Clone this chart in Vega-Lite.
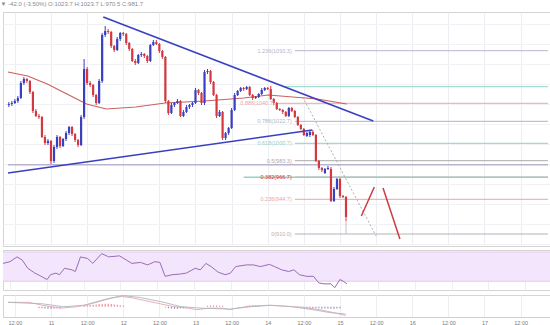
{
"$schema": "https://vega.github.io/schema/vega-lite/v6.json",
"padding": 0,
"background": "#ffffff",
"spacing": 2,
"title": {"text": "▼ -42.0 (-3.50%) O:1023.7 H:1023.7 L:970.5 C:981.7", "anchor": "start", "fontSize": 6, "fontWeight": "normal", "color": "#8a8a8a", "offset": 5, "font": "Liberation Sans"},
"config": {"view": {"stroke": "#d4d4d4"}, "font": "Liberation Sans"},
"datasets": {
"candles": [
{"t":10,"o":1039,"c":1040,"h":1042,"l":1037},{"t":11,"o":1040,"c":1041,"h":1043,"l":1038},{"t":12,"o":1041,"c":1043,"h":1045,"l":1040},{"t":13,"o":1043,"c":1046,"h":1048,"l":1041},{"t":14,"o":1046,"c":1061,"h":1063,"l":1045},{"t":15,"o":1061,"c":1065,"h":1067,"l":1059},{"t":16,"o":1065,"c":1063,"h":1066,"l":1061},{"t":17,"o":1063,"c":1052,"h":1064,"l":1050},{"t":18,"o":1052,"c":1033,"h":1053,"l":1031},{"t":19,"o":1033,"c":1028,"h":1035,"l":1027},
{"t":20,"o":1028,"c":1027,"h":1030,"l":1025},{"t":21,"o":1027,"c":1007,"h":1028,"l":1006},{"t":22,"o":1007,"c":1001,"h":1009,"l":999},{"t":23,"o":1001,"c":1003,"h":1005,"l":999},{"t":24,"o":1003,"c":983,"h":1004,"l":980},{"t":25,"o":983,"c":997,"h":999,"l":981},{"t":26,"o":997,"c":1007,"h":1009,"l":995},{"t":27,"o":1007,"c":998,"h":1008,"l":996},{"t":28,"o":998,"c":1005,"h":1006,"l":997},{"t":29,"o":1005,"c":1011,"h":1013,"l":1003},
{"t":30,"o":1011,"c":1017,"h":1018,"l":1009},{"t":31,"o":1017,"c":1010,"h":1018,"l":1008},{"t":32,"o":1010,"c":1004,"h":1011,"l":1002},{"t":33,"o":1004,"c":999,"h":1005,"l":997},{"t":34,"o":999,"c":1027,"h":1029,"l":998},{"t":35,"o":1027,"c":1075,"h":1085,"l":1025},{"t":36,"o":1075,"c":1061,"h":1077,"l":1059},{"t":37,"o":1061,"c":1059,"h":1063,"l":1057},{"t":38,"o":1059,"c":1049,"h":1060,"l":1047},{"t":39,"o":1049,"c":1041,"h":1050,"l":1039},
{"t":40,"o":1041,"c":1063,"h":1065,"l":1040},{"t":41,"o":1063,"c":1109,"h":1111,"l":1061},{"t":42,"o":1109,"c":1113,"h":1118,"l":1107},{"t":43,"o":1113,"c":1112,"h":1115,"l":1110},{"t":44,"o":1112,"c":1098,"h":1113,"l":1096},{"t":45,"o":1098,"c":1094,"h":1099,"l":1092},{"t":46,"o":1094,"c":1105,"h":1107,"l":1093},{"t":47,"o":1105,"c":1111,"h":1112,"l":1103},{"t":48,"o":1111,"c":1110,"h":1112,"l":1108},{"t":49,"o":1110,"c":1101,"h":1111,"l":1099},
{"t":50,"o":1101,"c":1095,"h":1102,"l":1093},{"t":51,"o":1095,"c":1083,"h":1096,"l":1082},{"t":52,"o":1083,"c":1081,"h":1085,"l":1079},{"t":53,"o":1081,"c":1089,"h":1090,"l":1080},{"t":54,"o":1089,"c":1090,"h":1092,"l":1087},{"t":55,"o":1090,"c":1088,"h":1091,"l":1086},{"t":56,"o":1088,"c":1083,"h":1089,"l":1081},{"t":57,"o":1083,"c":1099,"h":1100,"l":1082},{"t":58,"o":1099,"c":1102,"h":1104,"l":1098},{"t":59,"o":1102,"c":1100,"h":1104,"l":1099},
{"t":60,"o":1100,"c":1093,"h":1101,"l":1091},{"t":61,"o":1093,"c":1087,"h":1094,"l":1085},{"t":62,"o":1087,"c":1043,"h":1088,"l":1041},{"t":63,"o":1043,"c":1031,"h":1044,"l":1029},{"t":64,"o":1031,"c":1039,"h":1041,"l":1030},{"t":65,"o":1039,"c":1041,"h":1042,"l":1037},{"t":66,"o":1041,"c":1043,"h":1045,"l":1040},{"t":67,"o":1043,"c":1028,"h":1044,"l":1027},{"t":68,"o":1028,"c":1032,"h":1034,"l":1027},{"t":69,"o":1032,"c":1037,"h":1039,"l":1031},
{"t":70,"o":1037,"c":1039,"h":1040,"l":1035},{"t":71,"o":1039,"c":1041,"h":1042,"l":1037},{"t":72,"o":1041,"c":1054,"h":1056,"l":1040},{"t":73,"o":1054,"c":1051,"h":1055,"l":1049},{"t":74,"o":1051,"c":1041,"h":1052,"l":1039},{"t":75,"o":1041,"c":1072,"h":1074,"l":1039},{"t":76,"o":1072,"c":1073,"h":1075,"l":1070},{"t":77,"o":1073,"c":1062,"h":1074,"l":1060},{"t":78,"o":1062,"c":1049,"h":1063,"l":1048},{"t":79,"o":1049,"c":1028,"h":1050,"l":1026},
{"t":80,"o":1028,"c":1032,"h":1034,"l":1027},{"t":81,"o":1032,"c":1006,"h":1033,"l":1004},{"t":82,"o":1006,"c":1011,"h":1012,"l":1004},{"t":83,"o":1011,"c":1016,"h":1017,"l":1009},{"t":84,"o":1016,"c":1034,"h":1036,"l":1015},{"t":85,"o":1034,"c":1049,"h":1051,"l":1033},{"t":86,"o":1049,"c":1053,"h":1054,"l":1048},{"t":87,"o":1053,"c":1056,"h":1057,"l":1052},{"t":88,"o":1056,"c":1055,"h":1057,"l":1053},{"t":89,"o":1055,"c":1057,"h":1058,"l":1054},
{"t":90,"o":1057,"c":1049,"h":1058,"l":1048},{"t":91,"o":1049,"c":1046,"h":1050,"l":1044},{"t":92,"o":1046,"c":1047,"h":1048,"l":1045},{"t":93,"o":1047,"c":1050,"h":1051,"l":1046},{"t":94,"o":1050,"c":1054,"h":1056,"l":1049},{"t":95,"o":1054,"c":1056,"h":1057,"l":1053},{"t":96,"o":1056,"c":1055,"h":1057,"l":1054},{"t":97,"o":1055,"c":1045,"h":1058,"l":1044},{"t":98,"o":1045,"c":1041,"h":1046,"l":1039},{"t":99,"o":1041,"c":1035,"h":1042,"l":1034},
{"t":100,"o":1035,"c":1034,"h":1036,"l":1033},{"t":101,"o":1034,"c":1032,"h":1035,"l":1030},{"t":102,"o":1032,"c":1028,"h":1033,"l":1027},{"t":103,"o":1028,"c":1036,"h":1037,"l":1027},{"t":104,"o":1036,"c":1033,"h":1037,"l":1032},{"t":105,"o":1033,"c":1027,"h":1034,"l":1026},{"t":106,"o":1027,"c":1019,"h":1028,"l":1018},{"t":107,"o":1019,"c":1015,"h":1020,"l":1014},{"t":108,"o":1015,"c":1009,"h":1016,"l":1008},{"t":109,"o":1008,"c":1011,"h":1012,"l":1007},
{"t":110,"o":1009,"c":1012,"h":1013,"l":1007},{"t":111,"o":1012,"c":1009,"h":1014,"l":1008},{"t":112,"o":1009,"c":983,"h":1010,"l":982},{"t":113,"o":983,"c":976,"h":984,"l":974},{"t":114,"o":976,"c":974,"h":977,"l":972},{"t":115,"o":971,"c":975,"h":976,"l":970},{"t":116,"o":975,"c":976,"h":978,"l":974},{"t":117,"o":975,"c":943,"h":977,"l":942},{"t":118,"o":943,"c":955,"h":957,"l":942},{"t":119,"o":955,"c":965,"h":966,"l":954},
{"t":120,"o":965,"c":948,"h":966,"l":946},{"t":121,"o":948,"c":947,"h":949,"l":946},{"t":122,"o":947,"c":927,"h":948,"l":923}
],
"ma": [
{"t":9.72,"p":1072},{"t":16.24,"p":1068},{"t":22.77,"p":1060},{"t":29.29,"p":1050},{"t":35.81,"p":1040},{"t":42.34,"p":1035},{"t":52.12,"p":1037},{"t":61.9,"p":1041},{"t":74.95,"p":1043},{"t":88.0,"p":1046},{"t":96.15,"p":1049},{"t":104.3,"p":1047},{"t":112.5,"p":1045},{"t":122.2,"p":1040}
],
"fib": [
{"lvl":"1.236","p":1093.3,"t0":105,"t1":189.1,"lt":104.3,"lbl":"1.236(1093.3)"},
{"lvl":"1","p":1057.3,"t0":101,"t1":189.1,"lt":100.5,"lbl":""},
{"lvl":"0.886","p":1040.7,"t0":99.3,"t1":189.1,"lt":98.6,"lbl":"0.886(1040.7)"},
{"lvl":"0.786","p":1022.7,"t0":105,"t1":189.1,"lt":104.3,"lbl":"0.786(1022.7)"},
{"lvl":"0.618","p":1000.7,"t0":105,"t1":189.1,"lt":104.3,"lbl":"0.618(1000.7)"},
{"lvl":"0.5","p":983.3,"t0":105,"t1":189.1,"lt":104.3,"lbl":"0.5(983.3)"},
{"lvl":"0.382","p":966.7,"t0":105,"t1":189.1,"lt":104.3,"lbl":"0.382(966.7)"},
{"lvl":"0.236","p":944.7,"t0":105,"t1":189.1,"lt":104.3,"lbl":"0.236(944.7)"},
{"lvl":"0","p":910.0,"t0":105,"t1":189.1,"lt":104.3,"lbl":"0(910.0)"}
],
"support": [
{"id":"s1","p":979.3,"t0":9.72,"t1":189.1},
{"id":"s2","p":966.7,"t0":88,"t1":189.1}
],
"trend": [
{"id":"down","t":41.36,"p":1127},{"id":"down","t":131.05,"p":1023},
{"id":"up","t":9.72,"p":971},{"id":"up","t":110.8,"p":1014}
],
"dotted": [{"t":107.6,"p":1047},{"t":132.0,"p":908}],
"proj": [
{"id":"a","t":127.1,"p":928},{"id":"a","t":131.4,"p":957},
{"id":"b","t":134.3,"p":956},{"id":"b","t":139.9,"p":905}
],
"anchor": [{"t":122,"p1":923,"p2":910}],
"rsi": [
{"t":9.7,"r":54.4},{"t":12.0,"r":56.7},{"t":14.3,"r":63.3},{"t":16.0,"r":58.9},{"t":17.8,"r":47.7},{"t":20.1,"r":41.1},{"t":21.2,"r":38.9},{"t":24.1,"r":32.3},{"t":25.2,"r":38.9},{"t":27.0,"r":41.1},{"t":28.1,"r":38.9},{"t":29.8,"r":47.7},{"t":32.2,"r":45.6},{"t":33.3,"r":43.3},{"t":35.0,"r":63.3},{"t":37.3,"r":61.1},{"t":39.0,"r":54.4},{"t":41.9,"r":67.7},{"t":44.2,"r":63.3},{"t":47.7,"r":64.7},{"t":50.0,"r":58.9},{"t":51.7,"r":54.4},{"t":54.6,"r":55.7},{"t":56.9,"r":52.3},{"t":59.2,"r":56.7},{"t":60.9,"r":55.7},{"t":62.6,"r":36.7},{"t":64.9,"r":38.9},{"t":67.3,"r":39.7},{"t":69.5,"r":41.1},{"t":72.4,"r":47.7},{"t":74.1,"r":45.6},{"t":75.9,"r":54.4},{"t":77.6,"r":50},{"t":79.9,"r":42.4},{"t":82.2,"r":38.9},{"t":83.9,"r":41.1},{"t":85.6,"r":50},{"t":89.1,"r":52.3},{"t":91.4,"r":52.3},{"t":93.7,"r":50},{"t":96.6,"r":53.1},{"t":98.3,"r":50},{"t":100.6,"r":45.6},{"t":102.9,"r":43.3},{"t":104.6,"r":45.6},{"t":106.4,"r":38.9},{"t":108.7,"r":36.7},{"t":111.0,"r":36.7},{"t":112.7,"r":27.7},{"t":114.4,"r":26.4},{"t":116.7,"r":26.4},{"t":117.9,"r":21.1},{"t":119.6,"r":32.3},{"t":120.7,"r":30},{"t":121.9,"r":26.4}
],
"macd": [
{"s":"macd","t":9.7,"v":15},{"s":"macd","t":16.6,"v":15},{"s":"macd","t":21.2,"v":5},{"s":"macd","t":27.0,"v":-5},{"s":"macd","t":32.7,"v":0},{"s":"macd","t":37.3,"v":10},{"s":"macd","t":40.8,"v":20},{"s":"macd","t":44.2,"v":30},{"s":"macd","t":47.7,"v":35},{"s":"macd","t":51.1,"v":30},{"s":"macd","t":55.7,"v":20},{"s":"macd","t":60.3,"v":10},{"s":"macd","t":64.9,"v":0},{"s":"macd","t":69.5,"v":-5},{"s":"macd","t":72.4,"v":-10},{"s":"macd","t":76.4,"v":-5},{"s":"macd","t":81.1,"v":-5},{"s":"macd","t":83.4,"v":-10},{"s":"macd","t":85.6,"v":-5},{"s":"macd","t":90.3,"v":2},{"s":"macd","t":96.0,"v":5},{"s":"macd","t":101.8,"v":2},{"s":"macd","t":107.5,"v":-2},{"s":"macd","t":113.3,"v":-10},{"s":"macd","t":117.9,"v":-20},{"s":"macd","t":121.9,"v":-30},
{"s":"signal","t":9.7,"v":15},{"s":"signal","t":21.2,"v":10},{"s":"signal","t":28.1,"v":0},{"s":"signal","t":35.0,"v":5},{"s":"signal","t":41.9,"v":25},{"s":"signal","t":47.7,"v":38},{"s":"signal","t":53.4,"v":32},{"s":"signal","t":61.5,"v":15},{"s":"signal","t":67.2,"v":0},{"s":"signal","t":74.1,"v":-5},{"s":"signal","t":83.4,"v":-8},{"s":"signal","t":90.3,"v":0},{"s":"signal","t":97.2,"v":5},{"s":"signal","t":104.1,"v":0},{"s":"signal","t":111.0,"v":-10},{"s":"signal","t":116.7,"v":-20},{"s":"signal","t":121.9,"v":-25}
],
"hist": [
{"t":20,"h":-4},{"t":21,"h":-5},{"t":22,"h":-6},{"t":23,"h":-7},{"t":24,"h":-7},{"t":25,"h":-6},{"t":26,"h":-5},{"t":27,"h":-4},
{"t":35,"h":4},{"t":36,"h":5},{"t":37,"h":6},{"t":38,"h":7},{"t":39,"h":8},{"t":40,"h":9},{"t":41,"h":9},{"t":42,"h":10},{"t":43,"h":10},{"t":44,"h":9},{"t":45,"h":8},{"t":46,"h":7},{"t":47,"h":5},{"t":48,"h":3},
{"t":62,"h":-3},{"t":63,"h":-5},{"t":64,"h":-6},{"t":65,"h":-7},{"t":66,"h":-7},{"t":67,"h":-6},{"t":68,"h":-5},{"t":69,"h":-3},
{"t":76,"h":3},{"t":77,"h":4},{"t":78,"h":4},{"t":79,"h":4},{"t":80,"h":3},{"t":81,"h":3},
{"t":89,"h":3},{"t":90,"h":4},{"t":91,"h":4},{"t":92,"h":4},{"t":93,"h":3},
{"t":106,"h":-2},{"t":107,"h":-3},{"t":108,"h":-3},{"t":109,"h":-4},{"t":110,"h":-4},{"t":111,"h":-5},{"t":112,"h":-5},{"t":113,"h":-5},{"t":114,"h":-6},{"t":115,"h":-6},{"t":116,"h":-6},{"t":117,"h":-7},{"t":118,"h":-7},{"t":119,"h":-6},{"t":120,"h":-5}
]
},
"vconcat": [
{
"width": 550, "height": 234,
"encoding": {
"x": {"type": "quantitative", "scale": {"domain": [9.72, 189.1], "nice": false, "zero": false}, "axis": {"title": null, "labels": false, "ticks": false, "domain": false, "grid": true, "gridColor": "#eceef3", "values": [12,24,36,48,60,72,84,96,108,120,132,144,156,168,180]}},
"y": {"type": "quantitative", "scale": {"domain": [898, 1132], "nice": false, "zero": false}, "axis": {"title": null, "orient": "right", "labels": false, "ticks": false, "domain": false, "grid": true, "gridColor": "#f1f2f5", "values": [900,920,940,960,980,1000,1020,1040,1060,1080,1100,1120]}}
},
"layer": [
{"data": {"name": "fib"}, "mark": {"type": "rule", "strokeWidth": 1}, "encoding": {"x": {"field": "t0"}, "x2": {"field": "t1"}, "y": {"field": "p"}, "color": {"field": "lvl", "type": "nominal", "legend": null, "scale": {"domain": ["1.236","1","0.886","0.786","0.618","0.5","0.382","0.236","0"], "range": ["#bab3d0","#8fd4c4","#eba5ab","#aeb6c3","#8bd1c2","#ababab","#e0303a","#eaa3aa","#b3b3b3"]}}}},
{"data": {"name": "support"}, "mark": {"type": "rule", "strokeWidth": 1.6}, "encoding": {"x": {"field": "t0"}, "x2": {"field": "t1"}, "y": {"field": "p"}, "color": {"field": "id", "type": "nominal", "legend": null, "scale": {"domain": ["s1","s2"], "range": ["#c4303a","#e2202e"]}}}},
{"data": {"name": "ma"}, "mark": {"type": "line", "color": "#c9605c", "strokeWidth": 1.1, "clip": true}, "encoding": {"x": {"field": "t"}, "y": {"field": "p"}}},
{"data": {"name": "candles"}, "mark": {"type": "rule", "strokeWidth": 1}, "encoding": {"x": {"field": "t"}, "y": {"field": "l"}, "y2": {"field": "h"}, "color": {"condition": {"test": "datum.c > datum.o", "value": "#3a3fc2"}, "value": "#d2383e"}}},
{"data": {"name": "candles"}, "mark": {"type": "bar", "width": 2.2}, "encoding": {"x": {"field": "t"}, "y": {"field": "o"}, "y2": {"field": "c"}, "color": {"condition": {"test": "datum.c > datum.o", "value": "#3a3fc2"}, "value": "#d2383e"}}},
{"data": {"name": "trend"}, "mark": {"type": "line", "color": "#3a3fc2", "strokeWidth": 1.6, "clip": true}, "encoding": {"x": {"field": "t"}, "y": {"field": "p"}, "detail": {"field": "id"}}},
{"data": {"name": "dotted"}, "mark": {"type": "line", "color": "#9a9a9a", "strokeWidth": 0.8, "strokeDash": [2, 2]}, "encoding": {"x": {"field": "t"}, "y": {"field": "p"}}},
{"data": {"name": "proj"}, "mark": {"type": "line", "color": "#d03a40", "strokeWidth": 1.5}, "encoding": {"x": {"field": "t"}, "y": {"field": "p"}, "detail": {"field": "id"}}},
{"data": {"name": "anchor"}, "mark": {"type": "rule", "color": "#b0b0b0", "strokeWidth": 0.8}, "encoding": {"x": {"field": "t"}, "y": {"field": "p1"}, "y2": {"field": "p2"}}},
{"data": {"name": "fib"}, "mark": {"type": "text", "align": "right", "baseline": "middle", "fontSize": 5.5, "dx": -1}, "encoding": {"x": {"field": "lt"}, "y": {"field": "p"}, "text": {"field": "lbl"}, "color": {"field": "lvl", "type": "nominal", "legend": null}}}
]
},
{
"width": 550, "height": 40,
"encoding": {
"x": {"type": "quantitative", "scale": {"domain": [9.72, 189.1], "nice": false, "zero": false}, "axis": {"title": null, "labels": false, "ticks": false, "domain": false, "grid": true, "gridColor": "#eceef3", "values": [12,24,36,48,60,72,84,96,108,120,132,144,156,168,180]}}
},
"layer": [
{"data": {"values": [{"lo": 30, "hi": 70}]}, "mark": {"type": "rect", "color": "#f3e5fb"}, "encoding": {"y": {"field": "hi", "type": "quantitative", "scale": {"domain": [18, 72.7], "nice": false, "zero": false}, "axis": null}, "y2": {"field": "lo"}}},
{"data": {"values": [{"lvl": 70}, {"lvl": 30}]}, "mark": {"type": "rule", "color": "#dcc2ea", "strokeWidth": 0.8}, "encoding": {"y": {"field": "lvl", "type": "quantitative"}}},
{"data": {"name": "rsi"}, "mark": {"type": "line", "color": "#9a6db6", "strokeWidth": 1}, "encoding": {"x": {"field": "t"}, "y": {"field": "r", "type": "quantitative"}}}
]
},
{
"width": 550, "height": 22,
"encoding": {
"x": {"type": "quantitative", "scale": {"domain": [9.72, 189.1], "nice": false, "zero": false}, "axis": {"title": null, "grid": true, "gridColor": "#eceef3", "ticks": false, "domain": true, "domainColor": "#cfcfcf", "labelFontSize": 5.5, "labelColor": "#7a7a7a", "labelPadding": 3, "values": [12,24,36,48,60,72,84,96,108,120,132,144,156,168,180], "labelExpr": "datum.value % 24 == 0 ? toString(10 + datum.value / 24) : '12:00'"}}
},
"layer": [
{"data": {"name": "hist"}, "mark": {"type": "bar", "width": 1}, "encoding": {"x": {"field": "t"}, "y": {"field": "h", "type": "quantitative", "scale": {"domain": [-35, 40], "nice": false, "zero": false}, "axis": null}, "y2": {"datum": 0}, "color": {"condition": {"test": "datum.h > 0", "value": "#e07a86"}, "value": "#7c80b8"}}},
{"data": {"name": "macd"}, "mark": {"type": "line", "strokeWidth": 0.9}, "encoding": {"x": {"field": "t"}, "y": {"field": "v", "type": "quantitative"}, "color": {"field": "s", "type": "nominal", "legend": null, "scale": {"domain": ["macd", "signal"], "range": ["#5c5c5c", "#8fd6bd"]}}}}
]
}
]
}
